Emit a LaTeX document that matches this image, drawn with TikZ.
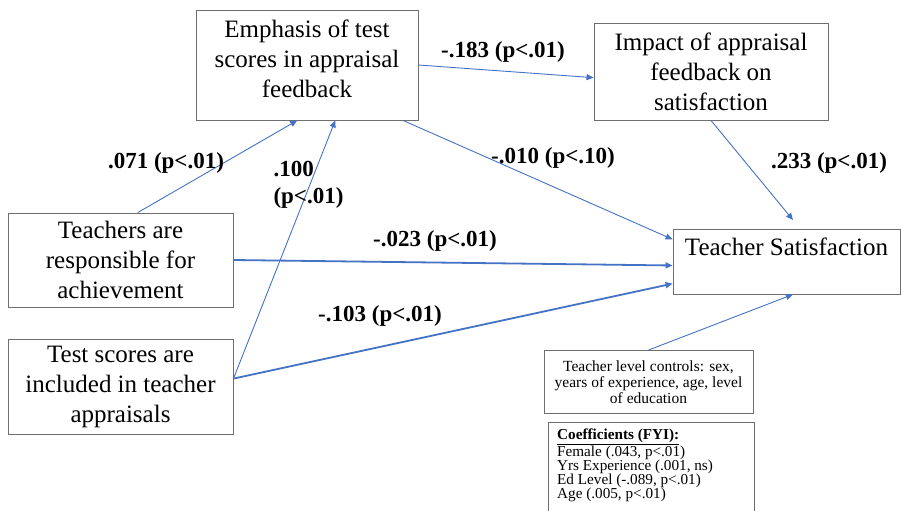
\documentclass[tikz,border=0pt]{standalone}
\usepackage{fontspec}
\setmainfont{Liberation Serif}
\usepackage{xcolor}
\usepackage{tikz}
\usetikzlibrary{arrows.meta, calc}

\definecolor{pathblue}{HTML}{4472C4}
\definecolor{boxgray}{HTML}{6E6E6E}

\tikzset{
  box/.style={draw=boxgray, line width=0.9pt, align=center, inner sep=0pt,
    font=\fontsize{25}{30}\selectfont},
  path/.style={pathblue, line width=0.9pt, -{Triangle[length=7pt, width=6pt]}},
  bigpath/.style={path, line width=1.8pt},
  coef/.style={font=\fontsize{23}{27}\selectfont\bfseries}
}

\begin{document}
\begin{tikzpicture}[x=1pt, y=1pt]
  \useasboundingbox (0,0) rectangle (903,-511);

  % Boxes
  \node[box, minimum width=222pt, minimum height=110pt] (emph) at (307,-65)
    {Emphasis of test\\scores in appraisal\\feedback\\[-18pt]};
  \node[box, minimum width=234pt, minimum height=97pt] (impact) at (711,-71.5)
    {Impact of appraisal\\feedback on\\satisfaction};
  \node[box, minimum width=227pt, minimum height=65pt] (ts) at (786.5,-261.5) {};
  \node[anchor=north, font=\fontsize{25}{30}\selectfont] (tstext) at (786.5,-234)
    {Teacher Satisfaction};
  \node[box, minimum width=225pt, minimum height=94pt] (resp) at (120.5,-260)
    {Teachers are\\responsible for\\achievement};
  \node[box, minimum width=225pt, minimum height=95pt] (incl) at (120.5,-386.5)
    {Test scores are\\included in teacher\\appraisals};
  \node[box, minimum width=209pt, minimum height=63pt,
    font=\fontsize{15.5}{15.8}\selectfont] (ctrl) at (648.5,-382)
    {Teacher level controls: sex,\\years of experience, age, level\\of education};
  \node[box, minimum width=206pt, minimum height=100pt] (coefbox) at (651,-472) {};
  \node[anchor=north west, align=left, inner sep=0pt,
    font=\fontsize{15.2}{13.8}\selectfont] (coeftext) at (557,-429)
    {\textbf{\underline{Coefficients (FYI):}}\\
     Female (.043, p<.01)\\
     Yrs Experience (.001, ns)\\
     Ed Level (-.089, p<.01)\\
     Age (.005, p<.01)};

  % Free end above the outcome box
  \coordinate (tstop) at (793,-220);

  % Paths
  \draw[path] (resp.70.6) -- (emph.260.7);
  \draw[path] (incl.4.8) -- (emph.297);
  \draw[path] (emph.east) -- (impact.183.2);
  \draw[path] (emph.330.7) -- (ts.169.8);
  \draw[bigpath] (resp.east) -- (ts.182.3);
  \draw[bigpath] (incl.4.8) -- (ts.191.6);
  \draw[path] (impact.south) -- (tstop);
  \draw[path] (ctrl.north) -- (ts.281);

  % Path labels
  \node[coef] (lresp) at (166,-163) {.071 (p<.01)};
  \node[coef, anchor=west, align=left, font=\fontsize{23}{27}\selectfont\bfseries]
    (lincl) at (270,-185) {.100\\(p<.01)};
  \node[coef] (lemph) at (503,-52) {-.183 (p<.01)};
  \node[coef] (ldir) at (553,-158) {-.010 (p<.10)};
  \node[coef] (limp) at (829,-163) {.233 (p<.01)};
  \node[coef] (lrespts) at (435,-241) {-.023 (p<.01)};
  \node[coef] (linclts) at (380,-316) {-.103 (p<.01)};
\end{tikzpicture}
\end{document}
